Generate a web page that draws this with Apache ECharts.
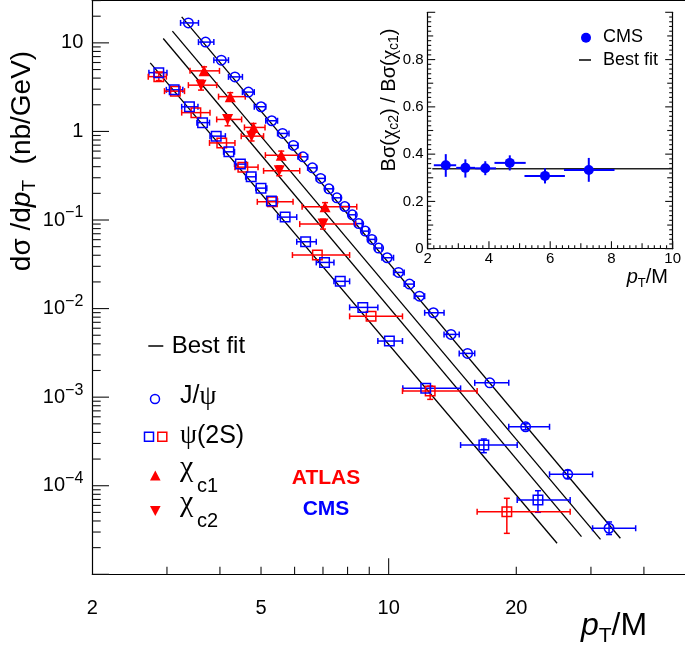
<!DOCTYPE html>
<html><head><meta charset="utf-8">
<script src="https://cdn.jsdelivr.net/npm/echarts@6/dist/echarts.min.js"></script>
<style>html,body{margin:0;padding:0;background:#fff}#c{width:685px;height:647px}</style>
</head><body><div id="c"></div>
<script>
const FONT = '"Liberation Sans", Arial, Helvetica, sans-serif';
const SERIF = '"Liberation Serif", "Times New Roman", serif';
const BLUE = '#0000ff', RED = '#ff0000';

// ================= DATA =================
// J/psi (CMS) - open blue circles
const jpsiX   = [3.37,3.70,4.03,4.34,4.67,5.00,5.30,5.62,5.96,6.28,6.61,6.91,7.23,7.55,7.88,8.21,8.50,8.81,9.13,9.47,9.92,10.55,11.20,11.82,12.75,14.03,15.35,17.32,21.04,26.45,33.1];
const jpsiY   = [16.8,10.2,6.38,4.13,2.78,1.90,1.32,0.949,0.695,0.517,0.388,0.295,0.225,0.178,0.142,0.1145,0.0911,0.0749,0.0604,0.0482,0.0375,0.0256,0.0189,0.0138,0.00897,0.00511,0.00312,0.00145,0.000463,0.0001345,3.31e-5];
const jpsiXlo = [3.23,3.56,3.87,4.19,4.52,4.82,5.13,5.47,5.82,6.11,6.44,6.76,7.08,7.39,7.71,8.05,8.36,8.66,8.97,9.29,9.64,10.27,10.88,11.49,12.16,13.51,14.67,15.96,19.2,23.96,30.27];
const jpsiXhi = [3.56,3.87,4.19,4.52,4.82,5.13,5.47,5.82,6.11,6.44,6.76,7.08,7.39,7.71,8.05,8.36,8.66,8.97,9.29,9.64,10.27,10.88,11.49,12.16,13.51,14.67,15.96,19.2,23.96,30.27,38.25];
const jpsiYlo = [null,null,null,null,null,null,null,null,null,null,null,null,null,null,null,null,null,null,null,null,null,null,null,null,null,null,null,null,4.28e-4,1.21e-4,2.81e-5];
const jpsiYhi = [null,null,null,null,null,null,null,null,null,null,null,null,null,null,null,null,null,null,null,null,null,null,null,null,null,null,null,null,5.0e-4,1.49e-4,3.90e-5];

// psi(2S) (CMS) - open blue squares
const psiCmsX   = [2.87,3.12,3.39,3.64,3.92,4.20,4.47,4.74,5.00,5.29,5.70,6.37,7.06,7.69,8.69,10.04,12.23,16.77,22.5];
const psiCmsY   = [4.61,2.95,1.896,1.257,0.885,0.589,0.4276,0.3074,0.229,0.1634,0.1078,0.0568,0.0332,0.0203,0.01031,0.00430,0.001257,0.000288,6.9e-5];
const psiCmsXlo = [2.72,2.99,3.25,3.53,3.79,4.08,4.33,4.60,4.86,5.16,5.47,6.07,6.75,7.43,8.09,9.43,10.80,14.78,20.1];
const psiCmsXhi = [3.00,3.27,3.55,3.78,4.12,4.33,4.61,4.86,5.16,5.47,6.07,6.75,7.43,8.09,9.43,10.78,14.78,20.1,26.8];
const psiCmsYlo = [null,null,null,null,null,null,null,null,null,null,null,null,null,null,null,null,null,0.000236,5.01e-5];
const psiCmsYhi = [null,null,null,null,null,null,null,null,null,null,null,null,null,null,null,null,null,0.000337,8.78e-5];

// psi(2S) (ATLAS) - open red squares
const psiAtlasX   = [2.87,3.14,3.51,4.04,4.53,5.32,6.79,9.09,12.53,19.0];
const psiAtlasY   = [4.155,2.85,1.630,0.742,0.395,0.1604,0.0402,0.00817,0.001172,5.09e-5];
const psiAtlasXlo = [2.71,2.96,3.25,3.78,4.34,4.90,5.93,8.09,10.78,16.17];
const psiAtlasXhi = [2.99,3.30,3.79,4.34,4.92,5.95,8.09,10.78,16.17,26.8];
const psiAtlasYlo = [3.75,null,null,null,null,null,null,null,0.000944,2.90e-5];
const psiAtlasYhi = [4.60,null,null,null,null,null,null,null,0.001334,7.21e-5];

// chi_c1 (ATLAS) - red up triangles
const chic1X   = [3.67,4.23,4.80,5.58,7.08];
const chic1Y   = [4.83,2.47,1.110,0.540,0.141];
const chic1Xlo = [3.40,3.97,4.57,5.12,6.25];
const chic1Xhi = [3.99,4.59,5.11,6.20,8.41];
const chic1Ylo = [4.35,2.22,1.00,0.486,0.127];
const chic1Yhi = [5.36,2.74,1.23,0.600,0.157];

// chi_c2 (ATLAS) - red down triangles
const chic2X   = [3.61,4.17,4.75,5.52,7.00];
const chic2Y   = [3.33,1.366,0.885,0.359,0.0899];
const chic2Xlo = [3.37,3.93,4.49,5.07,6.17];
const chic2Xhi = [3.93,4.50,5.07,6.17,8.35];
const chic2Ylo = [2.93,1.157,0.78,0.316,0.079];
const chic2Yhi = [3.79,1.528,1.00,0.408,0.102];

// Best-fit lines (end points)
const fitJpsiX  = [3.25, 35.2],  fitJpsiY  = [19.66, 2.55e-5];
const fitChic1X = [3.09, 31.6],  fitChic1Y = [13.55, 2.48e-5];
const fitChic2X = [2.94, 28.5],  fitChic2Y = [11.21, 2.66e-5];
const fitPsi2SX = [2.74, 24.96], fitPsi2SY = [5.95, 2.24e-5];

// Inset: ratio chi_c2 / chi_c1 (CMS)
const ratioX   = [2.59,3.23,3.88,4.68,5.83,7.26];
const ratioY   = [0.353,0.342,0.340,0.363,0.308,0.333];
const ratioXlo = [2.20,2.93,3.55,4.18,5.16,6.45];
const ratioXhi = [2.93,3.55,4.23,5.20,6.48,8.10];
const ratioYlo = [0.304,0.301,0.311,0.331,0.276,0.283];
const ratioYhi = [0.400,0.378,0.370,0.395,0.340,0.384];
const ratioFitX = [2.15, 10], ratioFitY = [0.338, 0.338];

// Axis ranges / ticks
const xMainRange = [2, 50];
const yMainRange = [1e-5, 30];
const xMinorTicks = [3,4,5,6,7,8,9,20,30,40];
const xMajorTicks = [10];
const xTickLabels = [2,5,10,20];
const yDecades = [1e-5,1e-4,1e-3,1e-2,1e-1,1,10];
const yMinorMult = [2,3,4,5,6,7,8,9];
const yTickLabels = [[10,'10',''],[1,'1',''],[0.1,'10','\u22121'],[0.01,'10','\u22122'],[0.001,'10','\u22123'],[0.0001,'10','\u22124']];
const insetXRange = [2, 10], insetYRange = [0, 1];

// ================= HELPERS =================
const mctx = document.createElement('canvas').getContext('2d');
function fnt(p){ return (p.italic?'italic ':'') + (p.bold?'bold ':'') + p.size + 'px ' + (p.serif?SERIF:FONT); }
function tw(p){ mctx.font = fnt(p); return mctx.measureText(p.text).width; }
function richEls(parts, align){
  const total = parts.reduce((s,p)=>s+tw(p)+(p.gap||0),0);
  let x = align==='center' ? -total/2 : (align==='right' ? -total : 0);
  return parts.map(p=>{
    x += (p.gap||0);
    const el = {type:'text', x:x, y:(p.dy||0), silent:true,
      style:{text:p.text, font:fnt(p), fill:p.color||'#000', align:'left', verticalAlign:'middle', textAlign:'left', textVerticalAlign:'middle'}};
    x += tw(p);
    return el;
  });
}
function richGroup(parts, x, y, align, rotation){
  return {type:'group', x:x, y:y, rotation:rotation||0, silent:true, children: richEls(parts, align)};
}

function errSeries(X,Y,XL,XH,YL,YH,color,lw,cap,xi,yi){
  const data = X.map((x,i)=>[x, Y[i], XL[i], XH[i], (YL&&YL[i])||0, (YH&&YH[i])||0]);
  return {type:'custom', xAxisIndex:xi, yAxisIndex:yi, data:data, clip:false, z:3, silent:true,
    renderItem(params, api){
      const y = api.value(1), x = api.value(0);
      const l = api.coord([api.value(2), y]), r = api.coord([api.value(3), y]);
      const st = {stroke:color, lineWidth:lw};
      const ch = [
        {type:'line', shape:{x1:l[0],y1:l[1],x2:r[0],y2:r[1]}, style:st},
        {type:'line', shape:{x1:l[0],y1:l[1]-cap,x2:l[0],y2:l[1]+cap}, style:st},
        {type:'line', shape:{x1:r[0],y1:r[1]-cap,x2:r[0],y2:r[1]+cap}, style:st}
      ];
      const ylo = api.value(4), yhi = api.value(5);
      if (ylo > 0 && yhi > 0) {
        const b = api.coord([x, ylo]), t = api.coord([x, yhi]);
        ch.push({type:'line', shape:{x1:b[0],y1:b[1],x2:t[0],y2:t[1]}, style:st});
        ch.push({type:'line', shape:{x1:b[0]-cap,y1:b[1],x2:b[0]+cap,y2:b[1]}, style:st});
        ch.push({type:'line', shape:{x1:t[0]-cap,y1:t[1],x2:t[0]+cap,y2:t[1]}, style:st});
      }
      return {type:'group', children:ch};
    }};
}
function markerSeries(X,Y,symbol,size,fill,stroke,bw,rot,xi,yi){
  return {type:'scatter', xAxisIndex:xi, yAxisIndex:yi, data:X.map((x,i)=>[x,Y[i]]),
    symbol:symbol, symbolSize:size, symbolRotate:rot||0, silent:true, z:4,
    itemStyle:{color:fill, borderColor:stroke, borderWidth:bw, opacity:1}};
}
function lineSeries(X,Y,xi,yi,color,w){
  return {type:'line', xAxisIndex:xi, yAxisIndex:yi, data:X.map((x,i)=>[x,Y[i]]), showSymbol:false, symbol:'none',
    silent:true, z:2, lineStyle:{color:color, width:w}};
}
// Axis decoration: one custom series whose single item draws all ticks (+labels) of an axis through api.coord
function axisDecor(ticks, labels, xi, yi){
  return {type:'custom', xAxisIndex:xi, yAxisIndex:yi, clip:false, z:3, silent:true,
    data:[[ticks[0][0], ticks[0][1]]],
    renderItem(params, api){
      const ch = [];
      const W = 1.1;
      ticks.forEach(t=>{
        const p = api.coord([t[0], t[1]]);
        const L = t[2];
        let r;
        if (t[3]==='up') r = {x:p[0]-W/2, y:p[1]-L, width:W, height:L};
        else if (t[3]==='right') r = {x:p[0], y:p[1]-W/2, width:L, height:W};
        else r = {x:p[0]-L, y:p[1]-W/2, width:L, height:W};
        ch.push({type:'rect', shape:r, style:{fill:'#111111', stroke:null}});
      });
      labels.forEach(l=>{
        const p = api.coord([l[0], l[1]]);
        ch.push({type:'group', x:p[0]+l[2], y:p[1]+l[3], children: richEls(l[4], l[5])});
      });
      return {type:'group', children:ch};
    }};
}

// ================= TICKS DATA =================
const mainXTicks = [];
xMinorTicks.forEach(v=>mainXTicks.push([v, yMainRange[0], 7.6, 'up']));
xMajorTicks.forEach(v=>mainXTicks.push([v, yMainRange[0], 16, 'up']));
const mainXLabels = xTickLabels.map(v=>[v, yMainRange[0], 0, 34, [{text:String(v), size:20}], 'center']);
const mainYTicks = [];
yDecades.forEach(d=>{
  mainYTicks.push([xMainRange[0], d, 16.7, 'right']);
  yMinorMult.forEach(m=>{ const v = d*m; if (v <= yMainRange[1]) mainYTicks.push([xMainRange[0], v, 8.4, 'right']); });
});
const mainYLabels = yTickLabels.map(t=>{
  const parts = [{text:t[1], size:20}];
  if (t[2]) parts.push({text:t[2], size:16, dy:-7});
  return [xMainRange[0], t[0], -9, 0, parts, 'right'];
});
const inXTicks = [], inYTicks = [];
for (let k=0;k<=40;k++){ inXTicks.push([insetXRange[0] + k*0.2, insetYRange[0], k%10===0?7.5:(k%5===0?5.5:3.5), 'up']); }
for (let k=0;k<=50;k++){ const v = k*0.02; const L = k%10===0?7.5:(k%5===0?5.5:3.5);
  inYTicks.push([insetXRange[0], v, L, 'right']); inYTicks.push([insetXRange[1], v, L, 'left']); }

// ================= CHART =================
const chart = echarts.init(document.getElementById('c'), null, {renderer:'canvas'});
const axisLineStyle = {show:true, lineStyle:{color:'#000', width:1.2}};
const option = {
  animation:false,
  backgroundColor:'#fff',
  grid:[
    {left:92.3, top:0.6, width:595.5, height:573.7, show:false},
    {left:427.7, top:12.3, width:245, height:236.4, show:true, backgroundColor:'#fff', borderWidth:0}
  ],
  xAxis:[
    {type:'log', logBase:10, gridIndex:0, min:xMainRange[0], max:xMainRange[1], axisLine:axisLineStyle, axisTick:{show:false}, axisLabel:{show:false}, splitLine:{show:false}},
    {type:'log', logBase:10, gridIndex:0, position:'top', min:xMainRange[0], max:xMainRange[1], axisLine:axisLineStyle, axisTick:{show:false}, axisLabel:{show:false}, splitLine:{show:false}},
    {type:'value', gridIndex:1, min:insetXRange[0], max:insetXRange[1], interval:2, axisLine:axisLineStyle, axisTick:{show:false}, splitLine:{show:false},
      axisLabel:{show:true, margin:3, color:'#000', fontSize:15, fontFamily:FONT}},
    {type:'value', gridIndex:1, position:'top', min:insetXRange[0], max:insetXRange[1], axisLine:axisLineStyle, axisTick:{show:false}, axisLabel:{show:false}, splitLine:{show:false}}
  ],
  yAxis:[
    {type:'log', logBase:10, gridIndex:0, min:yMainRange[0], max:yMainRange[1], axisLine:axisLineStyle, axisTick:{show:false}, axisLabel:{show:false}, splitLine:{show:false}},
    {type:'value', gridIndex:1, min:insetYRange[0], max:insetYRange[1], interval:0.2, axisLine:axisLineStyle, axisTick:{show:false}, splitLine:{show:false},
      axisLabel:{show:true, showMaxLabel:false, margin:4, color:'#000', fontSize:15, fontFamily:FONT, formatter:v=> v===0?'0':v.toFixed(1)}},
    {type:'value', gridIndex:1, position:'right', min:insetYRange[0], max:insetYRange[1], axisLine:axisLineStyle, axisTick:{show:false}, axisLabel:{show:false}, splitLine:{show:false}}
  ],
  series:[
    lineSeries(fitJpsiX, fitJpsiY, 0,0,'#000',1.3),
    lineSeries(fitChic1X, fitChic1Y, 0,0,'#000',1.3),
    lineSeries(fitChic2X, fitChic2Y, 0,0,'#000',1.3),
    lineSeries(fitPsi2SX, fitPsi2SY, 0,0,'#000',1.3),
    errSeries(jpsiX,jpsiY,jpsiXlo,jpsiXhi,jpsiYlo,jpsiYhi,BLUE,1.5,3,0,0),
    errSeries(psiCmsX,psiCmsY,psiCmsXlo,psiCmsXhi,psiCmsYlo,psiCmsYhi,BLUE,1.5,3,0,0),
    errSeries(psiAtlasX,psiAtlasY,psiAtlasXlo,psiAtlasXhi,psiAtlasYlo,psiAtlasYhi,RED,1.5,3,0,0),
    errSeries(chic1X,chic1Y,chic1Xlo,chic1Xhi,chic1Ylo,chic1Yhi,RED,1.5,3,0,0),
    errSeries(chic2X,chic2Y,chic2Xlo,chic2Xhi,chic2Ylo,chic2Yhi,RED,1.5,3,0,0),
    markerSeries(jpsiX,jpsiY,'circle',9.5,'rgba(0,0,0,0)',BLUE,1.5,0,0,0),
    markerSeries(psiAtlasX,psiAtlasY,'rect',9.5,'rgba(0,0,0,0)',RED,1.5,0,0,0),
    markerSeries(psiCmsX,psiCmsY,'rect',9.5,'rgba(0,0,0,0)',BLUE,1.5,0,0,0),
    markerSeries(chic1X,chic1Y,'triangle',11,RED,RED,0,0,0,0),
    markerSeries(chic2X,chic2Y,'triangle',11,RED,RED,0,180,0,0),
    axisDecor(mainXTicks, mainXLabels, 0, 0),
    axisDecor(mainYTicks, mainYLabels, 0, 0),
    // inset
    lineSeries(ratioFitX, ratioFitY, 2,1,'#222',1.5),
    errSeries(ratioX,ratioY,ratioXlo,ratioXhi,ratioYlo,ratioYhi,BLUE,2,0,2,1),
    markerSeries(ratioX,ratioY,'circle',10,BLUE,BLUE,0,0,2,1),
    axisDecor(inXTicks, [], 2, 1),
    axisDecor(inYTicks, [], 2, 1)
  ],
  graphic:[
    // main axis titles
    richGroup([{text:'d\u03c3 /d',size:28},{text:'p',size:28,italic:true},{text:'T',size:19,dy:8},{text:'  (nb/GeV)',size:28}], 22, 161, 'center', Math.PI/2),
    richGroup([{text:'p',size:32,italic:true},{text:'T',size:21,dy:10},{text:'/M',size:32}], 581, 626, 'left', 0),
    // main legend
    {type:'line', silent:true, shape:{x1:148.3,y1:346,x2:163.3,y2:346}, style:{stroke:'#000', lineWidth:1.5}},
    richGroup([{text:'Best fit',size:24}], 171.7, 346.5, 'left', 0),
    {type:'circle', silent:true, shape:{cx:155,cy:399,r:4.5}, style:{fill:'none', stroke:BLUE, lineWidth:1.5}},
    richGroup([{text:'J/',size:25},{text:'\u03c8',size:27,serif:true}], 180, 396.5, 'left', 0),
    {type:'rect', silent:true, shape:{x:144.5,y:432.2,width:9,height:9}, style:{fill:'none', stroke:BLUE, lineWidth:1.5}},
    {type:'rect', silent:true, shape:{x:157.8,y:432.2,width:9,height:9}, style:{fill:'none', stroke:RED, lineWidth:1.5}},
    richGroup([{text:'\u03c8',size:27,serif:true},{text:'(2S)',size:25}], 180, 436.3, 'left', 0),
    {type:'polygon', silent:true, shape:{points:[[150,480.5],[160.6,480.5],[155.3,470.5]]}, style:{fill:RED}},
    richGroup([{text:'\u03c7',size:30,serif:true}], 180, 468, 'left', 0),
    richGroup([{text:'c1',size:20}], 197, 486, 'left', 0),
    {type:'polygon', silent:true, shape:{points:[[150,506],[160.6,506],[155.3,516]]}, style:{fill:RED}},
    richGroup([{text:'\u03c7',size:30,serif:true}], 180, 503.3, 'left', 0),
    richGroup([{text:'c2',size:20}], 197, 521, 'left', 0),
    richGroup([{text:'ATLAS',size:21,bold:true,color:RED}], 326, 478.4, 'center', 0),
    richGroup([{text:'CMS',size:21,bold:true,color:BLUE}], 326, 509.4, 'center', 0),
    // inset titles
    richGroup([{text:'B\u03c3(',size:20},{text:'\u03c7',size:21,serif:true},{text:'c2',size:14,dy:5},{text:') / B\u03c3(',size:20},{text:'\u03c7',size:21,serif:true},{text:'c1',size:14,dy:5},{text:')',size:20}], 389, 100, 'center', Math.PI/2),
    richGroup([{text:'p',size:20,italic:true},{text:'T',size:13,dy:6},{text:'/M',size:20}], 626.7, 277, 'left', 0),
    // inset legend
    {type:'circle', silent:true, shape:{cx:586,cy:37.7,r:5}, style:{fill:BLUE}},
    richGroup([{text:'CMS',size:18}], 603, 37.5, 'left', 0),
    {type:'line', silent:true, shape:{x1:579,y1:60,x2:591,y2:60}, style:{stroke:'#000', lineWidth:1.5}},
    richGroup([{text:'Best fit',size:18}], 603, 60, 'left', 0)
  ]
};
chart.setOption(option);
</script>
</body></html>
